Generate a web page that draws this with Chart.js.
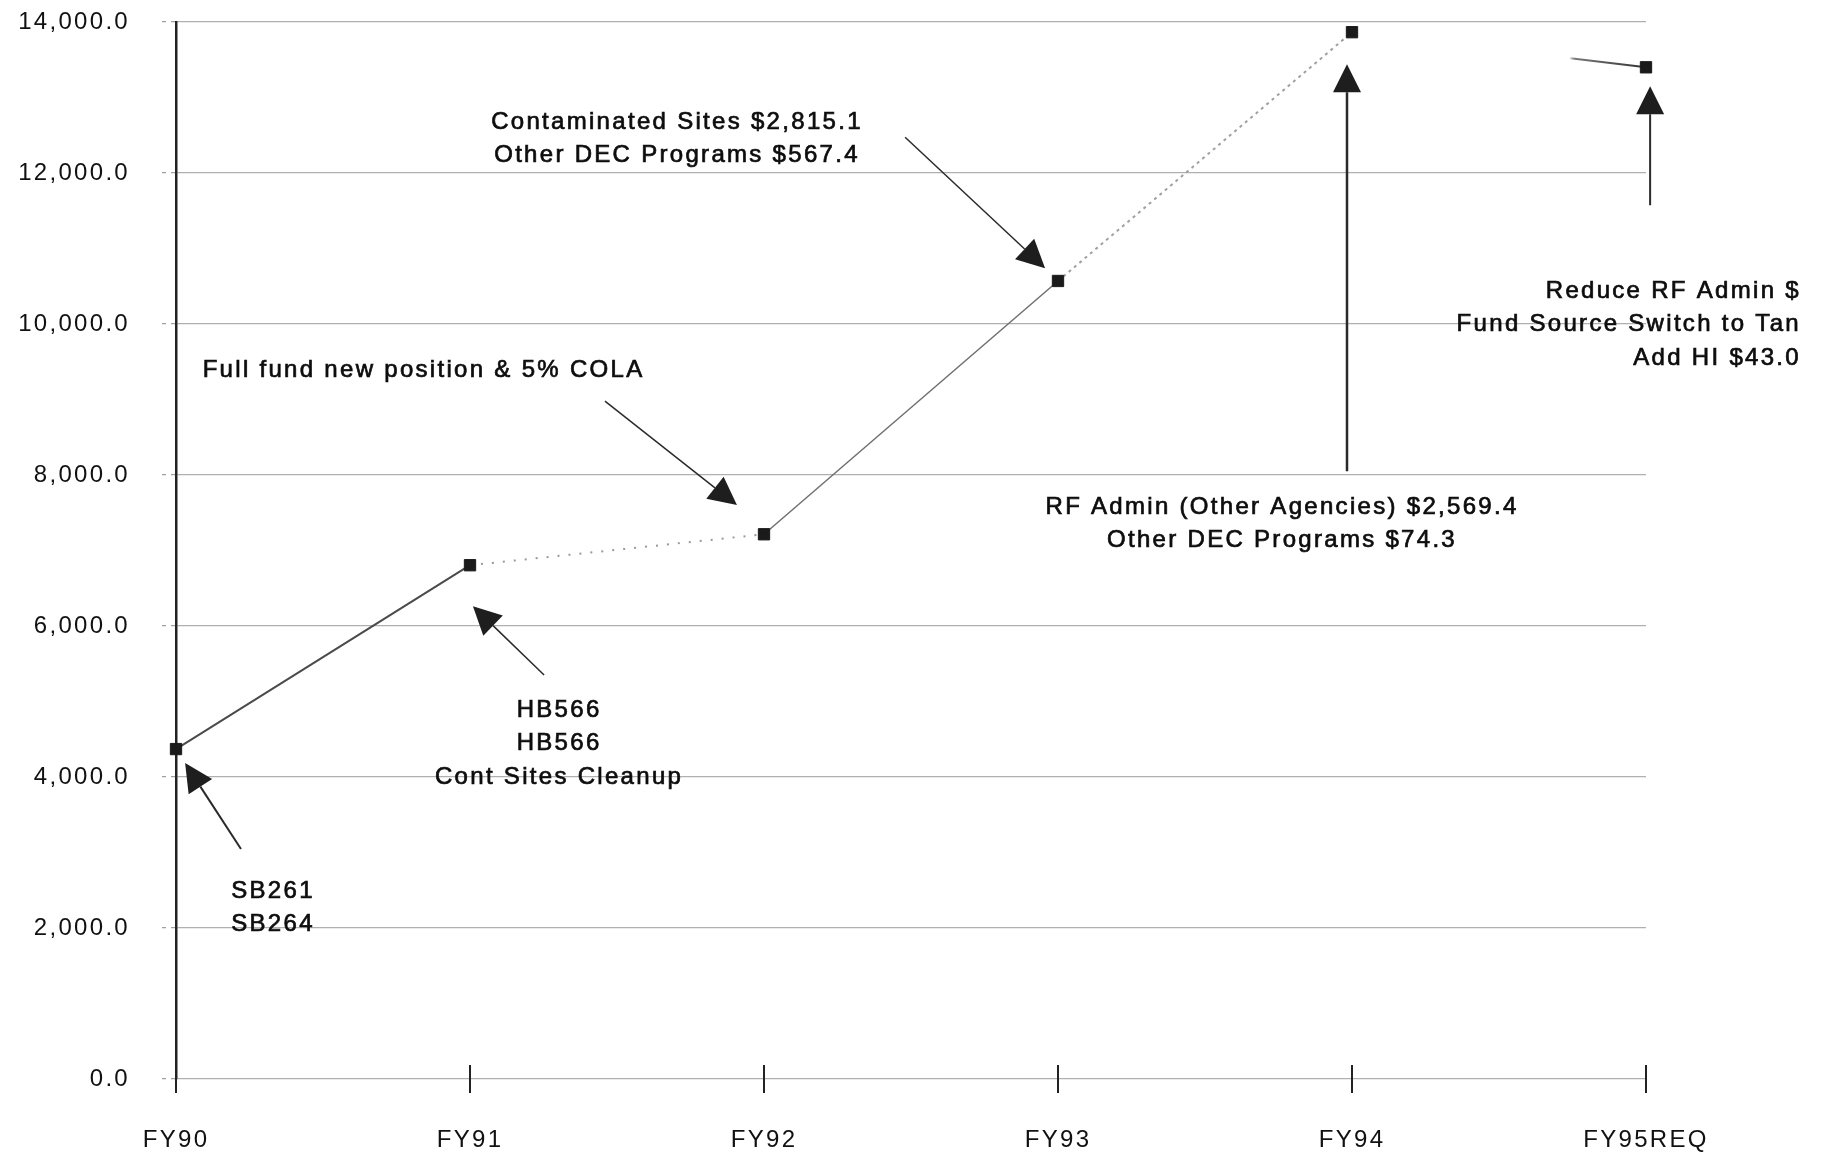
<!DOCTYPE html>
<html>
<head>
<meta charset="utf-8">
<script src="https://cdn.jsdelivr.net/npm/chart.js@4.4.1/dist/chart.umd.min.js"></script>
<style>
html,body{margin:0;padding:0;background:#fff;}
#wrap{width:1824px;height:1155px;}
</style>
</head>
<body>
<div id="wrap"><canvas id="chart" width="1824" height="1155"></canvas></div>
<script>
const categories = ["FY90","FY91","FY92","FY93","FY94","FY95REQ"];
const totals = [4370, 6805, 7215, 10570, 13865, 13400];
const yTickLabels = ["0.0","2,000.0","4,000.0","6,000.0","8,000.0","10,000.0","12,000.0","14,000.0"];

// ----------------- Callouts (placed in chart units: category index, value) -----------------
const notes = [
  {lines:["SB261","SB264"], x:0.33, y:2489, align:"center"},
  {lines:["HB566","HB566","Cont Sites Cleanup"], x:1.303, y:4886, align:"center"},
  {lines:["Full fund new position & 5% COLA"], x:0.842, y:9388, align:"center"},
  {lines:["Contaminated Sites $2,815.1","Other DEC Programs $567.4"], x:1.704, y:12672, align:"center"},
  {lines:["RF Admin (Other Agencies) $2,569.4","Other DEC Programs $74.3"], x:3.762, y:7574, align:"center"},
  {lines:["Reduce RF Admin $","Fund Source Switch to Tan","Add HI $43.0"], x:5.527, y:10434, align:"right"}
];
const arrows = [
  {from:[0.221,3046], to:[0.031,4184], w:2},
  {from:[1.252,5350], to:[1.010,6263], w:1.5},
  {from:[1.459,8978], to:[1.908,7601], w:1.5},
  {from:[2.480,12474], to:[2.956,10739], w:1.5},
  {from:[3.983,8051], to:[3.983,13440], w:2.5},
  {from:[5.014,11573], to:[5.014,13149], w:2}
];

const FONT = "'Liberation Sans', Arial, sans-serif";
const SPACING = "2.3px";

function drawArrow(ctx, x1, y1, x2, y2, w){
  const ang = Math.atan2(y2-y1, x2-x1);
  const hl = 28, hw = 14;
  const bx = x2 - hl*Math.cos(ang), by = y2 - hl*Math.sin(ang);
  ctx.lineWidth = w;
  ctx.beginPath(); ctx.moveTo(x1,y1); ctx.lineTo(bx,by); ctx.stroke();
  ctx.beginPath();
  ctx.moveTo(x2,y2);
  ctx.lineTo(bx + hw*Math.sin(ang), by - hw*Math.cos(ang));
  ctx.lineTo(bx - hw*Math.sin(ang), by + hw*Math.cos(ang));
  ctx.closePath(); ctx.fill();
}

const calloutPlugin = {
  id:"callouts",
  beforeDraw(chart){ chart.ctx.letterSpacing = SPACING; },
  afterDraw(chart){
    const ctx = chart.ctx, x = chart.scales.x, y = chart.scales.y;
    ctx.save();
    ctx.letterSpacing = SPACING;
    // short ticks crossing the baseline
    const y0 = y.getPixelForValue(0);
    ctx.strokeStyle = "#222"; ctx.lineWidth = 2;
    categories.forEach((c,i)=>{
      const px = x.getPixelForValue(i);
      ctx.beginPath(); ctx.moveTo(px, y0-14); ctx.lineTo(px, y0+14); ctx.stroke();
    });
    // arrows
    ctx.strokeStyle = "#2a2a2a"; ctx.fillStyle = "#1e1e1e";
    arrows.forEach(a=>{
      drawArrow(ctx, x.getPixelForValue(a.from[0]), y.getPixelForValue(a.from[1]),
        x.getPixelForValue(a.to[0]), y.getPixelForValue(a.to[1]), a.w);
    });
    // text
    ctx.fillStyle = "#0d0d0d";
    ctx.strokeStyle = "#0d0d0d";
    ctx.lineWidth = 0.7;
    ctx.font = "24px " + FONT;
    ctx.textBaseline = "middle";
    notes.forEach(n=>{
      ctx.textAlign = n.align;
      const px = x.getPixelForValue(n.x), py = y.getPixelForValue(n.y);
      n.lines.forEach((t,i)=>{
        ctx.fillText(t, px, py + i*33.5);
        ctx.strokeText(t, px, py + i*33.5);
      });
    });
    ctx.restore();
  }
};

const segStyles = [
  {color:"#4a4a4a", dash:[], width:2},
  {color:"#9a9a9a", dash:[2,9], width:2},
  {color:"#707070", dash:[], width:1.5},
  {color:"#a0a0a0", dash:[3,4], width:2},
  {color:null, dash:[], width:2}
];

function segColor(c){
  const s = segStyles[c.p0DataIndex];
  if(s.color) return s.color;
  const g = c.chart.ctx.createLinearGradient(c.p0.x, c.p0.y, c.p1.x, c.p1.y);
  g.addColorStop(0, "rgba(0,0,0,0)");
  g.addColorStop(0.74, "rgba(0,0,0,0)");
  g.addColorStop(0.76, "#777");
  g.addColorStop(1, "#333");
  return g;
}

new Chart(document.getElementById("chart"), {
  type:"line",
  data:{
    labels:categories,
    datasets:[{
      data:totals,
      borderColor:"#555",
      borderWidth:2,
      pointStyle:"rect",
      pointRadius:8,
      pointBorderWidth:1,
      pointBackgroundColor:"#1a1a1a",
      pointBorderColor:"#1a1a1a",
      tension:0,
      segment:{
        borderColor:segColor,
        borderDash:c=>segStyles[c.p0DataIndex].dash,
        borderWidth:c=>segStyles[c.p0DataIndex].width
      }
    }]
  },
  options:{
    responsive:false,
    animation:false,
    devicePixelRatio:1,
    layout:{padding:{left:0, top:22, right:178, bottom:0}},
    plugins:{legend:{display:false}, tooltip:{enabled:false}},
    scales:{
      x:{
        offset:false,
        grid:{display:false},
        border:{display:false},
        ticks:{padding:39, color:"#111", font:{family:FONT, size:24}},
        afterFit:s=>{ s.height = 76; }
      },
      y:{
        min:0, max:14000,
        ticks:{
          stepSize:2000,
          padding:32,
          color:"#111",
          font:{family:FONT, size:24},
          callback:(v,i)=>yTickLabels[i]
        },
        grid:{color:"#b0b0b0", lineWidth:1.3, borderDash:[4,9], tickLength:14, tickBorderDash:[4,5], tickColor:"#a0a0a0"},
        border:{display:true, color:"#222", width:2.5},
        afterFit:s=>{ s.width = 176; s.paddingTop = 0; s.paddingBottom = 0; }
      }
    }
  },
  plugins:[calloutPlugin]
});
</script>
</body>
</html>
